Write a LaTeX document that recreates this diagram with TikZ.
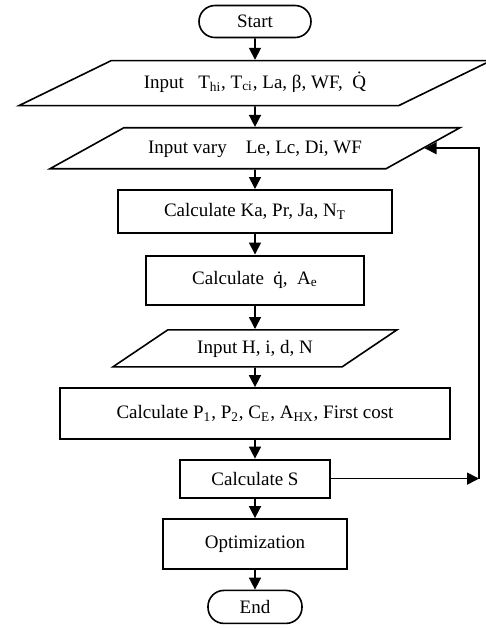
\documentclass[tikz,border=0pt]{standalone}
\usepackage{fontspec}
\setmainfont{Liberation Serif}
\usetikzlibrary{arrows.meta, positioning, shapes.geometric}
\tikzset{every node/.style={font=\fontsize{9.5}{11}\selectfont},
  process/.style={draw, line width=1pt, inner sep=2pt},
  terminal/.style={draw, line width=0.8pt, rounded corners=8pt, inner sep=2pt},
  io/.style 2 args={draw, line width=0.8pt, trapezium, trapezium stretches body,
    trapezium left angle=#1, trapezium right angle=#2, inner xsep=2pt,
    text height=7pt, text depth=2pt},
  flow/.style={-{Triangle[width=6pt,length=6pt]}, line width=0.8pt}}

\begin{document}
\begin{tikzpicture}[node distance=9.75pt]
  \useasboundingbox (0,0) rectangle (243pt,-314pt);
  \node[terminal, minimum width=56pt, minimum height=16pt] (start) at (127.5pt,-10.75pt) {Start};
  \node[io={26}{154}, minimum width=236pt, inner ysep=6.75pt, below=10.75pt of start] (input_data)
    {Input\ \ \ T\textsubscript{hi}, T\textsubscript{ci}, La, β, WF,\ \ \.{Q}};
  \node[io={29}{151}, minimum width=205pt, inner ysep=5.75pt, below=10.25pt of input_data] (input_vary)
    {Input vary\ \ \ \ Le, Lc, Di, WF};
  \node[process, minimum width=137pt, minimum height=21.5pt, below=of input_vary] (calc_ka)
    {Calculate Ka, Pr, Ja, N\textsubscript{T}};
  \node[process, minimum width=109pt, minimum height=24.5pt, below=10.25pt of calc_ka] (calc_q)
    {Calculate\ \ \.{q},\ \ A\textsubscript{e}};
  \node[io={34}{146}, minimum width=142pt, inner ysep=4.75pt, below=11.75pt of calc_q] (input_h)
    {Input H, i, d, N};
  \node[process, minimum width=195pt, minimum height=25.5pt, below=of input_h] (calc_p)
    {Calculate P\textsubscript{1}, P\textsubscript{2}, C\textsubscript{E}, A\textsubscript{HX}, First cost};
  \node[process, minimum width=75pt, minimum height=19pt, below=9.25pt of calc_p] (calc_s) {Calculate S};
  \node[process, minimum width=92pt, minimum height=25pt, below=of calc_s] (optimization) {Optimization};
  \node[terminal, minimum width=47pt, minimum height=16.5pt, below=of optimization] (stop) {End};

  \foreach \a/\b in {start/input_data, input_data/input_vary, input_vary/calc_ka, calc_ka/calc_q,
    calc_q/input_h, input_h/calc_p, calc_p/calc_s, calc_s/optimization, optimization/stop}
    \draw[flow] (\a) -- (\b);
  % loop back
  \coordinate[right=74pt of calc_s.east] (turn);
  \draw[flow] (calc_s) -- (turn);
  \draw[flow] (turn) |- (input_vary.right side);
\end{tikzpicture}
\end{document}
